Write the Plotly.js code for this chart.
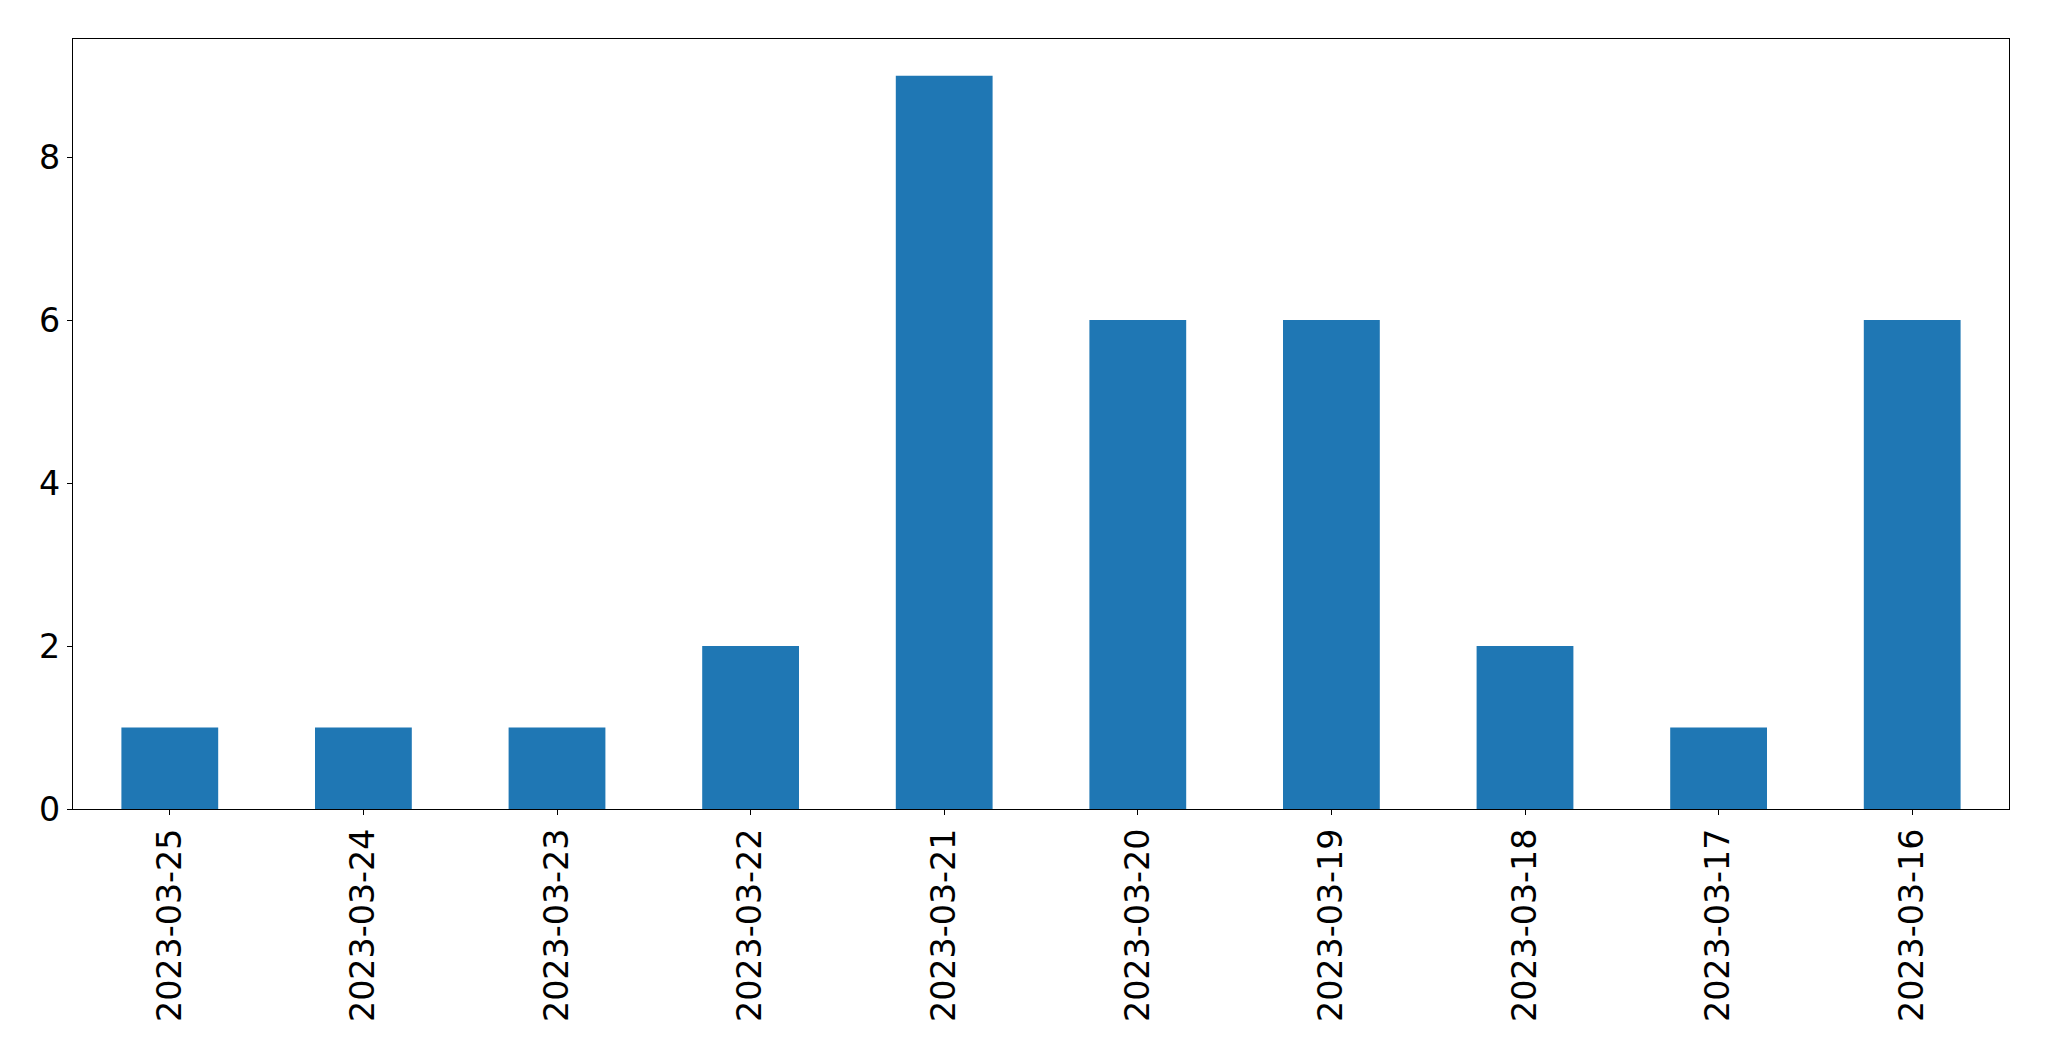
<!DOCTYPE html>
<html>
<head>
<meta charset="utf-8">
<script src="https://cdn.plot.ly/plotly-3.0.1.min.js"></script>
<style>html,body{margin:0;padding:0;background:#fff;}</style>
</head>
<body>
<div id="chart" style="width:2049px;height:1061px;"></div>
<script>
const dates = ["2023-03-25","2023-03-24","2023-03-23","2023-03-22","2023-03-21","2023-03-20","2023-03-19","2023-03-18","2023-03-17","2023-03-16"];
const counts = [1, 1, 1, 2, 9, 6, 6, 2, 1, 6];
const yTicks = [0, 2, 4, 6, 8];

const trace = {
  type: 'bar',
  x: dates,
  y: counts,
  width: 0.5,
  marker: {color: '#1f77b4', line: {width: 0}},
  hoverinfo: 'x+y'
};

const layout = {
  width: 2049,
  height: 1061,
  margin: {l: 72.5, r: 40, t: 39, b: 252, pad: 0},
  paper_bgcolor: '#ffffff',
  plot_bgcolor: '#ffffff',
  showlegend: false,
  font: {family: 'DejaVu Sans', size: 33.3, color: '#000000'},
  xaxis: {
    type: 'category',
    range: [-0.5, 9.5],
    tickangle: -90,
    ticks: 'outside',
    ticklen: 5,
    tickwidth: 1,
    tickcolor: '#000',
    showline: true,
    linecolor: '#000',
    linewidth: 1.2,
    mirror: true,
    showgrid: false,
    zeroline: false,
    tickfont: {family: 'DejaVu Sans', size: 33.3, color: '#000'}
  },
  yaxis: {
    range: [0, 9.45],
    tickmode: 'array',
    tickvals: yTicks,
    ticktext: yTicks.map(String),
    ticks: 'outside',
    ticklen: 5,
    tickwidth: 1,
    tickcolor: '#000',
    showline: true,
    linecolor: '#000',
    linewidth: 1.2,
    mirror: true,
    showgrid: false,
    zeroline: false,
    tickfont: {family: 'DejaVu Sans', size: 33.3, color: '#000'}
  }
};

Plotly.newPlot('chart', [trace], layout, {displayModeBar: false, staticPlot: true});
</script>
</body>
</html>
